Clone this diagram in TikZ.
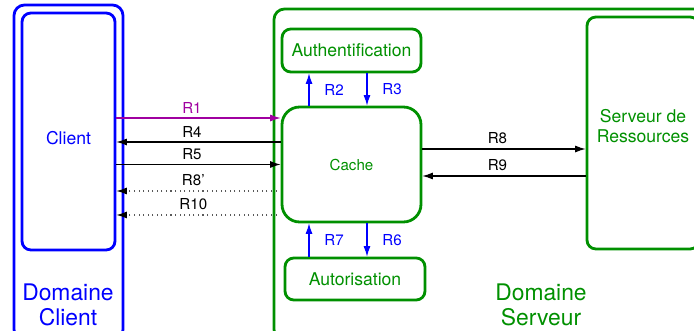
\documentclass[tikz,border=0pt]{standalone}
\usepackage{fontspec}
\setmainfont{TeX Gyre Heros}
\usetikzlibrary{arrows.meta}
\definecolor{clblue}{RGB}{0,0,255}
\definecolor{srvgreen}{RGB}{0,144,0}
\definecolor{reqpurple}{RGB}{160,0,160}
\tikzset{
    domframe/.style={line width=1.6pt, rounded corners=6pt},
    box/.style={draw, line width=1.6pt, rounded corners=5pt,
                inner sep=0pt, align=center, font=\fontsize{10}{11}\selectfont},
    domlabel/.style={align=center, font=\fontsize{13}{14.2}\selectfont},
    flow/.style={-{Latex[length=6pt,width=4pt]}, line width=0.6pt},
    late/.style={flow, dotted, draw=black!65,
                 -{Latex[length=6pt,width=4pt,color=black]}},
    srvflow/.style={flow, clblue},
    rlabel/.style={font=\fontsize{8.6}{10}\selectfont, inner sep=2.5pt},
}
\begin{document}
\begin{tikzpicture}[x=0.02cm, y=-0.02cm]
    \useasboundingbox (0,0) rectangle (694,331);

    % domaines
    \draw[domframe, clblue] (14,5) rectangle (123,340);
    \draw[domframe, srvgreen] (274,9) rectangle (720,340);
    \node[domlabel, text=clblue] (domclient) at (68,304.5) {Domaine\\Client};
    \node[domlabel, text=srvgreen] (domserveur) at (541,305) {Domaine\\Serveur};

    % noeuds
    \node[box, clblue, minimum width=1.86cm, minimum height=4.74cm,
          label={[text=clblue, font=\fontsize{10}{11}\selectfont, yshift=-4pt]center:Client}]
        (client) at (68.5,131.5) {};
    \node[box, srvgreen, minimum width=2.78cm, minimum height=0.86cm]
        (auth) at (351.5,50.5) {Authentification};
    \node[box, srvgreen, rounded corners=10pt, minimum width=2.78cm,
          minimum height=2.3cm, font=\fontsize{8.6}{10}\selectfont]
        (cache) at (351.5,164.5) {Cache};
    \node[box, srvgreen, minimum width=2.8cm, minimum height=0.84cm]
        (autor) at (355,279) {Autorisation};
    \node[box, srvgreen, minimum width=2.24cm, minimum height=4.64cm,
          label={[text=srvgreen, align=center, font=\fontsize{10}{11}\selectfont, yshift=4pt]center:Serveur de\\Ressources}]
        (serveur) at (643,133) {};

    % client <-> cache
    \coordinate (r1) at ([yshift=0.93cm]cache.west);
    \coordinate (r4) at ([yshift=0.45cm]cache.west);
    \coordinate (r5) at (cache.west);
    \coordinate (r8b) at ([xshift=-0.08cm, yshift=-0.53cm]cache.west);
    \coordinate (r10) at ([xshift=-0.08cm, yshift=-1.01cm]cache.west);
    \draw[flow, reqpurple] (client.east |- r1) -- node[rlabel, above, pos=0.46] {R1} (r1);
    \draw[flow] (r4) -- node[rlabel, above, pos=0.54] {R4} (client.east |- r4);
    \draw[flow] (client.east |- r5) -- node[rlabel, above, pos=0.46] {R5} (r5);
    \draw[late] (r8b) -- node[rlabel, above, pos=0.52, text=black] {R8'} (client.east |- r8b);
    \draw[late] (r10) -- node[rlabel, above, pos=0.52, text=black] {R10} (client.east |- r10);

    % cache <-> authentification / autorisation
    \coordinate (r2) at ([xshift=-0.85cm]cache.north);
    \coordinate (r3) at ([xshift=0.31cm]cache.north);
    \coordinate (r7) at ([xshift=-0.85cm]cache.south);
    \coordinate (r6) at ([xshift=0.31cm]cache.south);
    \draw[srvflow] (r2) -- node[rlabel, right, xshift=6pt] {R2} (r2 |- auth.south);
    \draw[srvflow] (r3 |- auth.south) -- node[rlabel, right, xshift=6pt] {R3} (r3);
    \draw[srvflow] (r7 |- autor.north) -- node[rlabel, right, xshift=6pt] {R7} (r7);
    \draw[srvflow] (r6) -- node[rlabel, right, xshift=6pt] {R6} (r6 |- autor.north);

    % cache <-> serveur de ressources
    \coordinate (r8) at ([yshift=0.31cm]cache.east);
    \coordinate (r9) at ([yshift=-0.23cm]cache.east);
    \draw[flow] (r8) -- node[rlabel, above, pos=0.46] {R8} (r8 -| serveur.west);
    \draw[flow] (r9 -| serveur.west) -- node[rlabel, above, pos=0.54] {R9} (r9);

\end{tikzpicture}
\end{document}
